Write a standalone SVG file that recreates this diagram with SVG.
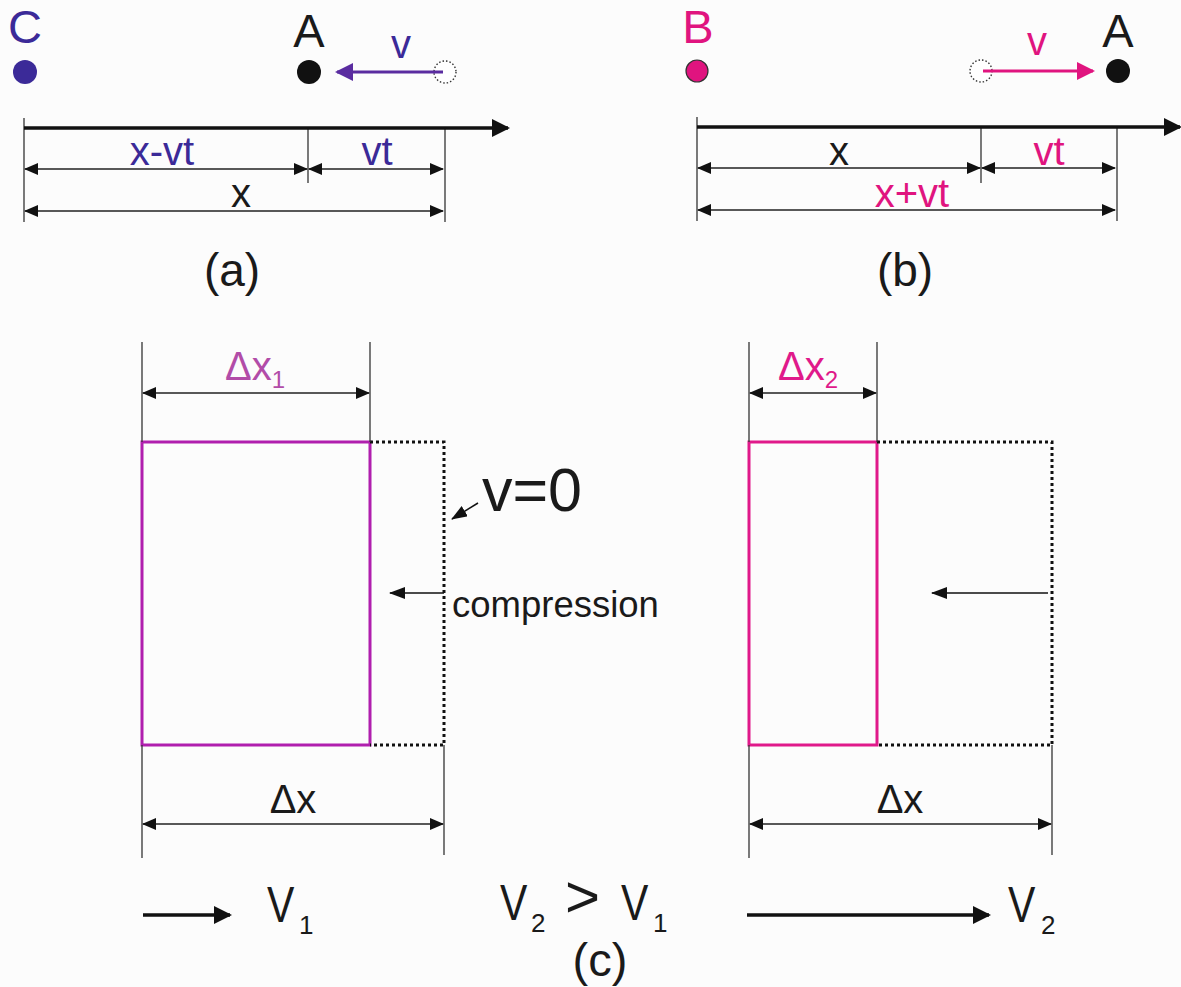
<svg xmlns="http://www.w3.org/2000/svg" width="1181" height="987" viewBox="0 0 1181 987">
<style>
text{font-family:"Liberation Sans",Arial,sans-serif}
.blk{fill:#1a1a1a}
.pur{fill:#3b2a98}
.mag{fill:#e0147f}
.ext{stroke:#333;stroke-width:1.3;fill:none}
.dim{stroke:#222;stroke-width:1.5;fill:none;marker-start:url(#dh);marker-end:url(#dh)}
.dot{fill:none;stroke:#111;stroke-width:3;stroke-dasharray:3 3}
.ghost{fill:#fff;stroke:#333;stroke-width:1.4;stroke-dasharray:1.5 2}
</style>
<defs>
<marker id="dh" viewBox="0 0 14 12" refX="13" refY="6" markerWidth="14" markerHeight="12" markerUnits="userSpaceOnUse" orient="auto-start-reverse"><path d="M0,0 L14,6 L0,12 z" fill="#111"/></marker>
<marker id="axh" viewBox="0 0 18 18" refX="16" refY="9" markerWidth="18" markerHeight="18" markerUnits="userSpaceOnUse" orient="auto"><path d="M0,0 L18,9 L0,18 z" fill="#111"/></marker>
<marker id="vph" viewBox="0 0 18 18" refX="16" refY="9" markerWidth="18" markerHeight="18" markerUnits="userSpaceOnUse" orient="auto"><path d="M0,0 L18,9 L0,18 z" fill="#5a2ca0"/></marker>
<marker id="vmh" viewBox="0 0 18 18" refX="16" refY="9" markerWidth="18" markerHeight="18" markerUnits="userSpaceOnUse" orient="auto"><path d="M0,0 L18,9 L0,18 z" fill="#e0147f"/></marker>
<marker id="sh" viewBox="0 0 16 12" refX="15" refY="6" markerWidth="16" markerHeight="12" markerUnits="userSpaceOnUse" orient="auto"><path d="M0,0 L16,6 L0,12 z" fill="#111"/></marker>
</defs>
<rect width="1181" height="987" fill="#fcfcfc"/>

<g id="panel-a">
  <g id="node-C"><text x="25" y="43" font-size="47" text-anchor="middle" class="pur">C</text><circle cx="25" cy="72" r="12" fill="#3b2a98"/></g>
  <g id="node-A1"><text x="309" y="47" font-size="47" text-anchor="middle" class="blk">A</text><circle cx="309" cy="72" r="12" fill="#111"/></g>
  <circle id="ghost-a" cx="445" cy="72" r="11" class="ghost"/>
  <text x="401" y="58" font-size="40" text-anchor="middle" class="pur">v</text>
  <line x1="24" y1="118" x2="24" y2="222" class="ext"/>
  <line x1="308" y1="128" x2="308" y2="183" class="ext"/>
  <line x1="445" y1="128" x2="445" y2="222" class="ext"/>
  <text x="162" y="165" font-size="40" text-anchor="middle" class="pur">x-vt</text>
  <text x="377" y="165" font-size="40" text-anchor="middle" class="pur">vt</text>
  <text x="241" y="207" font-size="40" text-anchor="middle" class="blk">x</text>
  <text x="232" y="286" font-size="46" text-anchor="middle" class="blk">(a)</text>
</g>

<g id="panel-b">
  <g id="node-B"><text x="698" y="43" font-size="47" text-anchor="middle" class="mag">B</text><circle cx="697" cy="71" r="11" fill="#e0147f" stroke="#333" stroke-width="1.2"/></g>
  <g id="node-A2"><text x="1118" y="47" font-size="47" text-anchor="middle" class="blk">A</text><circle cx="1118" cy="71" r="12" fill="#111"/></g>
  <circle id="ghost-b" cx="981" cy="71" r="11" class="ghost"/>
  <text x="1037" y="55" font-size="40" text-anchor="middle" class="mag">v</text>
  <line x1="697" y1="117" x2="697" y2="221" class="ext"/>
  <line x1="981" y1="127" x2="981" y2="183" class="ext"/>
  <line x1="1117" y1="127" x2="1117" y2="221" class="ext"/>
  <text x="839" y="165" font-size="40" text-anchor="middle" class="blk">x</text>
  <text x="1049" y="165" font-size="40" text-anchor="middle" class="mag">vt</text>
  <text x="912" y="207" font-size="40" text-anchor="middle" class="mag">x+vt</text>
  <text x="905" y="286" font-size="46" text-anchor="middle" class="blk">(b)</text>
</g>

<g id="panel-c">
  <g id="block-1">
    <rect x="142" y="442" width="228" height="303" fill="none" stroke="#b01fae" stroke-width="3"/>
    <path d="M370,442 H444 V745 H370" class="dot"/>
    <line x1="142" y1="342" x2="142" y2="442" class="ext"/>
    <line x1="370" y1="342" x2="370" y2="442" class="ext"/>
    <line x1="142" y1="745" x2="142" y2="858" class="ext"/>
    <line x1="444" y1="745" x2="444" y2="855" class="ext"/>
    <text x="255" y="380" font-size="40" text-anchor="middle" fill="#b24ca8">Δx<tspan font-size="24" dy="8">1</tspan></text>
    <text x="293" y="813" font-size="40" text-anchor="middle" class="blk">Δx</text>
    <text x="482" y="511" font-size="61" class="blk">v=0</text>
    <text x="452" y="617" font-size="36.5" class="blk">compression</text>
  </g>
  <g id="block-2">
    <rect x="749" y="442" width="128" height="303" fill="none" stroke="#e0198a" stroke-width="3"/>
    <path d="M877,442 H1052 V745 H877" class="dot"/>
    <line x1="749" y1="342" x2="749" y2="442" class="ext"/>
    <line x1="877" y1="342" x2="877" y2="442" class="ext"/>
    <line x1="749" y1="745" x2="749" y2="858" class="ext"/>
    <line x1="1052" y1="745" x2="1052" y2="855" class="ext"/>
    <text x="808" y="380" font-size="40" text-anchor="middle" fill="#e0198a">Δx<tspan font-size="24" dy="8">2</tspan></text>
    <text x="900" y="813" font-size="40" text-anchor="middle" class="blk">Δx</text>
  </g>
  <g id="speeds" class="blk">
    <text transform="translate(267,922) scale(0.82,1)" font-size="50">V</text>
    <text x="299" y="934" font-size="26">1</text>
    <text transform="translate(500,920) scale(0.82,1)" font-size="50">V</text>
    <text x="531" y="932" font-size="26">2</text>
    <text x="565" y="917" font-size="60">&gt;</text>
    <text transform="translate(621,920) scale(0.82,1)" font-size="50">V</text>
    <text x="653" y="932" font-size="26">1</text>
    <text transform="translate(1008,922) scale(0.82,1)" font-size="50">V</text>
    <text x="1041" y="934" font-size="26">2</text>
  </g>
  <text x="600" y="976" font-size="47" text-anchor="middle" class="blk">(c)</text>
</g>

<g id="connectors">
  <line x1="443" y1="72" x2="337" y2="72" stroke="#5a2ca0" stroke-width="3" marker-end="url(#vph)"/>
  <line x1="983" y1="71" x2="1093" y2="71" stroke="#e0147f" stroke-width="3" marker-end="url(#vmh)"/>
  <line x1="24" y1="128" x2="508" y2="128" stroke="#111" stroke-width="3.5" marker-end="url(#axh)"/>
  <line x1="697" y1="127" x2="1180" y2="127" stroke="#111" stroke-width="3.5" marker-end="url(#axh)"/>
  <line x1="25" y1="169" x2="307" y2="169" class="dim"/>
  <line x1="309" y1="169" x2="443" y2="169" class="dim"/>
  <line x1="25" y1="211" x2="443" y2="211" class="dim"/>
  <line x1="698" y1="168" x2="980" y2="168" class="dim"/>
  <line x1="982" y1="168" x2="1115" y2="168" class="dim"/>
  <line x1="698" y1="210" x2="1115" y2="210" class="dim"/>
  <line x1="143" y1="393" x2="369" y2="393" class="dim"/>
  <line x1="750" y1="393" x2="876" y2="393" class="dim"/>
  <line x1="143" y1="824" x2="443" y2="824" class="dim"/>
  <line x1="750" y1="824" x2="1051" y2="824" class="dim"/>
  <line x1="478" y1="503" x2="452" y2="519" stroke="#111" stroke-width="1.5" marker-end="url(#sh)"/>
  <line x1="444" y1="593" x2="390" y2="593" stroke="#111" stroke-width="1.5" marker-end="url(#sh)"/>
  <line x1="1048" y1="593" x2="932" y2="593" stroke="#111" stroke-width="1.5" marker-end="url(#sh)"/>
  <line x1="143" y1="915" x2="230" y2="915" stroke="#111" stroke-width="3.5" marker-end="url(#axh)"/>
  <line x1="747" y1="915" x2="989" y2="915" stroke="#111" stroke-width="3.5" marker-end="url(#axh)"/>
</g>
</svg>
